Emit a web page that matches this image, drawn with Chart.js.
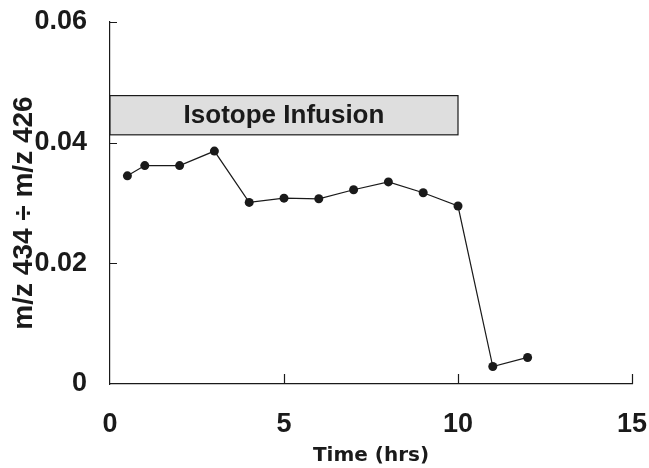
<!DOCTYPE html>
<html lang="en">
<head>
    <meta charset="UTF-8">
    <title>Isotope Infusion</title>
    <script src="https://cdn.jsdelivr.net/npm/chart.js"></script>
    <style>
        body {
            margin: 0;
            padding: 0;
            background-color: #ffffff;
        }
        canvas {
            display: block;
        }
    </style>
</head>
<body>
    <canvas id="ratioChart" width="649" height="468"></canvas>

    <script>
        // values
        const timeHrs = [0.5, 1, 2, 3, 4, 5, 6, 7, 8, 9, 10, 11, 12];
        const ratio = [0.0345, 0.0362, 0.0362, 0.0386, 0.0301, 0.0308, 0.0307,
                       0.0322, 0.0335, 0.0317, 0.0295, 0.0029, 0.0044];
        const xTicks = [0, 5, 10, 15];
        const yTicks = [0, 0.02, 0.04, 0.06];

        // infusion period (hrs) and the y band the label box sits in
        const infusionHrs = [0, 10];
        const infusionBand = [0.0413, 0.0478];
        const infusionLabel = 'Isotope Infusion';
        const yTitle = 'm/z 434 ÷ m/z 426';

        const ink = '#1a1a1a';

        // small inward ticks, the infusion box and the y title
        const figurePlugin = {
            id: 'figure',
            beforeDatasetsDraw(chart) {
                const ctx = chart.ctx;
                const x = chart.scales.x;
                const y = chart.scales.y;
                const left = x.getPixelForValue(infusionHrs[0]);
                const right = x.getPixelForValue(infusionHrs[1]);
                const top = y.getPixelForValue(infusionBand[1]);
                const bottom = y.getPixelForValue(infusionBand[0]);

                ctx.save();
                ctx.fillStyle = '#dedede';
                ctx.fillRect(left, top, right - left, bottom - top);
                ctx.strokeStyle = ink;
                ctx.lineWidth = 1.2;
                ctx.strokeRect(left, top, right - left, bottom - top);

                ctx.fillStyle = ink;
                ctx.font = 'bold 26px "Liberation Sans", Arial, sans-serif';
                ctx.textAlign = 'center';
                ctx.textBaseline = 'middle';
                ctx.fillText(infusionLabel, (left + right) / 2, (top + bottom) / 2 + 1);
                ctx.restore();
            },
            afterDraw(chart) {
                const ctx = chart.ctx;
                const x = chart.scales.x;
                const y = chart.scales.y;
                const area = chart.chartArea;

                ctx.save();
                ctx.strokeStyle = ink;
                ctx.lineWidth = 1.2;
                ctx.beginPath();
                yTicks.forEach(v => {
                    if (v === 0) return;
                    const py = Math.round(y.getPixelForValue(v)) + 0.5;
                    ctx.moveTo(area.left, py);
                    ctx.lineTo(area.left + 7, py);
                });
                xTicks.forEach(v => {
                    if (v === 0) return;
                    const px = Math.round(x.getPixelForValue(v)) + 0.5;
                    ctx.moveTo(px, area.bottom);
                    ctx.lineTo(px, area.bottom - 10);
                });
                ctx.stroke();

                // y title sits a little below the axis middle in the original
                ctx.translate(24, (area.top + area.bottom) / 2 + 10);
                ctx.rotate(-Math.PI / 2);
                ctx.fillStyle = ink;
                ctx.font = 'bold 28px "Liberation Sans", Arial, sans-serif';
                ctx.textAlign = 'center';
                ctx.textBaseline = 'middle';
                ctx.fillText(yTitle, 0, 0);
                ctx.restore();
            }
        };

        const tickFont = { family: '"Liberation Sans", Arial, sans-serif', size: 27, weight: 'bold' };

        new Chart(document.getElementById('ratioChart'), {
            type: 'scatter',
            data: {
                datasets: [{
                    data: timeHrs.map((t, i) => ({ x: t, y: ratio[i] })),
                    showLine: true,
                    borderColor: ink,
                    borderWidth: 1.2,
                    pointRadius: 4.5,
                    pointBackgroundColor: ink,
                    pointBorderColor: ink,
                    pointBorderWidth: 0
                }]
            },
            options: {
                responsive: false,
                animation: false,
                layout: {
                    padding: { top: 22, right: 17, left: 0, bottom: 0 }
                },
                plugins: {
                    legend: { display: false },
                    tooltip: { enabled: false }
                },
                scales: {
                    x: {
                        type: 'linear',
                        min: 0,
                        max: 15,
                        afterBuildTicks: scale => {
                            scale.ticks = xTicks.map(v => ({ value: v }));
                        },
                        afterFit: scale => {
                            scale.height = 84;
                            // tick padding would otherwise push the chart area in
                            scale.paddingLeft = 0;
                            scale.paddingRight = 0;
                        },
                        grid: { drawOnChartArea: false, drawTicks: false },
                        border: { display: true, color: ink, width: 1.2 },
                        ticks: {
                            color: ink,
                            font: tickFont,
                            padding: 24,
                            maxRotation: 0
                        },
                        title: {
                            display: true,
                            text: 'Time (hrs)',
                            color: ink,
                            font: { family: '"DejaVu Sans", sans-serif', size: 20, weight: 'bold' },
                            padding: { top: 0, bottom: 0 }
                        }
                    },
                    y: {
                        type: 'linear',
                        min: 0,
                        max: 0.06,
                        afterBuildTicks: scale => {
                            scale.ticks = yTicks.map(v => ({ value: v }));
                        },
                        afterFit: scale => {
                            scale.width = 110;
                            scale.paddingTop = 0;
                            scale.paddingBottom = 0;
                        },
                        grid: { drawOnChartArea: false, drawTicks: false },
                        border: { display: true, color: ink, width: 1.2 },
                        ticks: {
                            color: ink,
                            font: tickFont,
                            padding: 23,
                            callback: v => (v === 0 ? '0' : v.toFixed(2))
                        }
                    }
                }
            },
            plugins: [figurePlugin]
        });
    </script>
</body>
</html>
